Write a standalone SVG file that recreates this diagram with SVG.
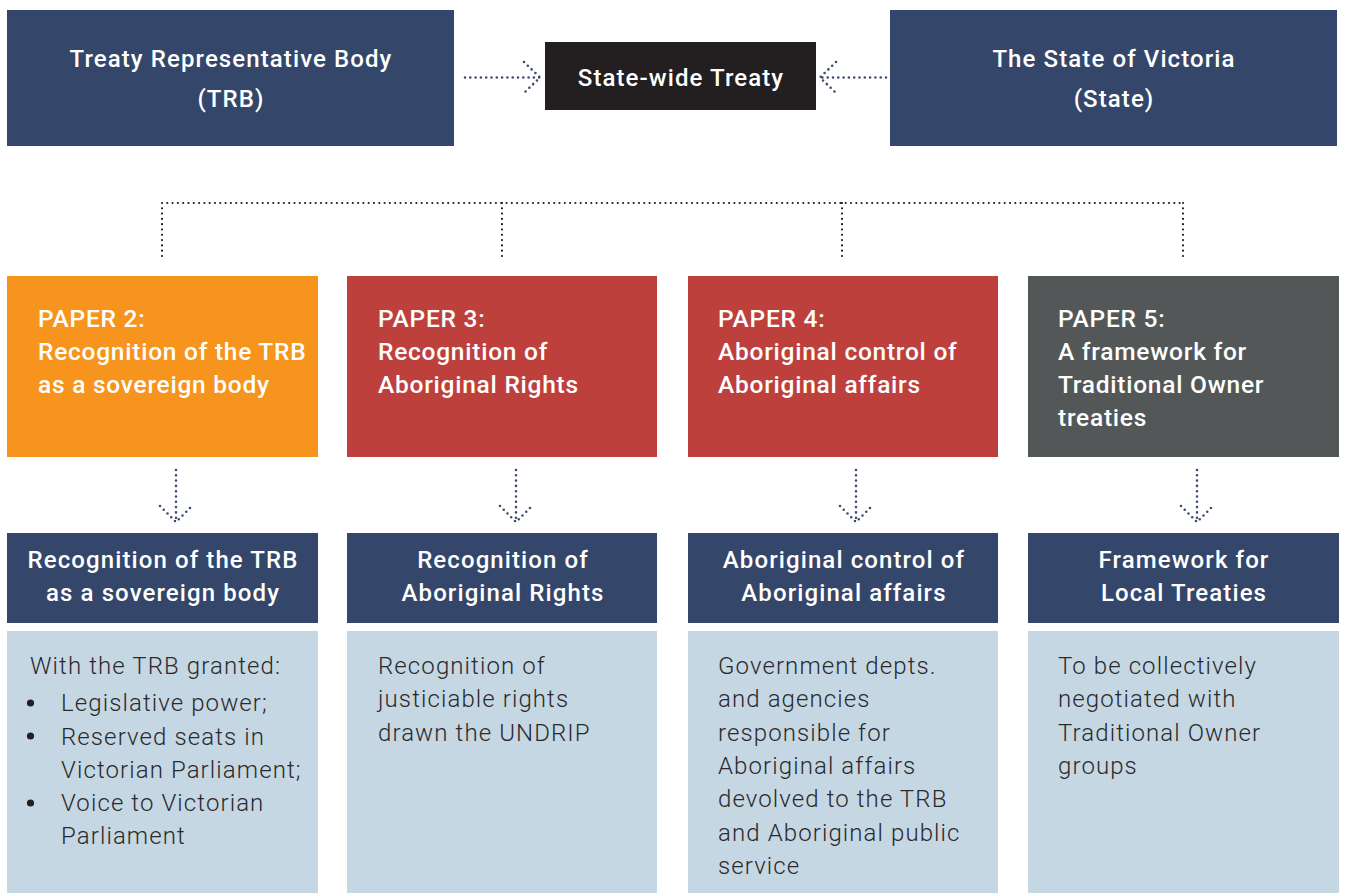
<svg xmlns="http://www.w3.org/2000/svg" width="1346" height="893" viewBox="0 0 1346 893">
<style>
.navy{fill:#34466a}
.hdr{font-family:Roboto,"Liberation Sans",sans-serif;font-weight:500;font-size:24px;fill:#ffffff;letter-spacing:1.1px}
.ptxt{font-family:Roboto,"Liberation Sans",sans-serif;font-weight:500;font-size:24.5px;fill:#ffffff;letter-spacing:0.75px}
.body{font-family:Roboto,"Liberation Sans",sans-serif;font-weight:300;font-size:24px;fill:#2a2a2c;letter-spacing:1.1px}
.dotk{fill:none;stroke:#231f20;stroke-width:2.2;stroke-linecap:round;stroke-dasharray:0 5.3}
.dotn{fill:none;stroke:#3b4b70;stroke-width:2.6;stroke-linecap:round;stroke-dasharray:0 5.3}
</style>
<rect width="1346" height="893" fill="#ffffff"/>

<g id="trb">
<rect class="navy" x="7" y="10" width="447" height="136"/>
<text class="hdr" x="231" y="67" text-anchor="middle">Treaty Representative Body</text>
<text class="hdr" x="231" y="107" text-anchor="middle">(TRB)</text>
</g>
<g id="treaty">
<rect x="545" y="42" width="271" height="68" fill="#231f20"/>
<text class="hdr" x="681" y="86" text-anchor="middle">State-wide Treaty</text>
</g>
<g id="state">
<rect class="navy" x="890" y="10" width="447" height="136"/>
<text class="hdr" x="1114" y="67" text-anchor="middle">The State of Victoria</text>
<text class="hdr" x="1114" y="107" text-anchor="middle">(State)</text>
</g>

<g id="connectors">
<path class="dotk" d="M162 203 H1183 M162 203 V259 M502 203 V259 M842 203 V259 M1183 203 V259"/>
<path class="dotn" d="M465 77.5 H540 M524 62 L540 77.5 L524 93"/>
<path class="dotn" d="M886 77.5 H820 M836 62 L820 77.5 L836 93"/>
<path class="dotn" d="M176 470 V522 M160 506 L176 522 L192 506"/>
<path class="dotn" d="M516 470 V522 M500 506 L516 522 L532 506"/>
<path class="dotn" d="M856 470 V522 M840 506 L856 522 L872 506"/>
<path class="dotn" d="M1197 470 V522 M1181 506 L1197 522 L1213 506"/>
</g>

<g id="paper2">
<rect x="7" y="276" width="311" height="181" fill="#f7941d"/>
<text class="ptxt" x="38" y="327">PAPER 2:</text>
<text class="ptxt" x="38" y="360">Recognition of the TRB</text>
<text class="ptxt" x="38" y="393">as a sovereign body</text>
</g>
<g id="paper3">
<rect x="347" y="276" width="310" height="181" fill="#be403d"/>
<text class="ptxt" x="378" y="327">PAPER 3:</text>
<text class="ptxt" x="378" y="360">Recognition of</text>
<text class="ptxt" x="378" y="393">Aboriginal Rights</text>
</g>
<g id="paper4">
<rect x="688" y="276" width="310" height="181" fill="#be403d"/>
<text class="ptxt" x="718" y="327">PAPER 4:</text>
<text class="ptxt" x="718" y="360">Aboriginal control of</text>
<text class="ptxt" x="718" y="393">Aboriginal affairs</text>
</g>
<g id="paper5">
<rect x="1028" y="276" width="311" height="181" fill="#535758"/>
<text class="ptxt" x="1058" y="327">PAPER 5:</text>
<text class="ptxt" x="1058" y="360">A framework for</text>
<text class="ptxt" x="1058" y="393">Traditional Owner</text>
<text class="ptxt" x="1058" y="426">treaties</text>
</g>

<g id="title2">
<rect class="navy" x="7" y="533" width="311" height="90"/>
<text class="hdr" x="163" y="568" text-anchor="middle">Recognition of the TRB</text>
<text class="hdr" x="163" y="601" text-anchor="middle">as a sovereign body</text>
</g>
<g id="title3">
<rect class="navy" x="347" y="533" width="310" height="90"/>
<text class="hdr" x="503" y="568" text-anchor="middle">Recognition of</text>
<text class="hdr" x="503" y="601" text-anchor="middle">Aboriginal Rights</text>
</g>
<g id="title4">
<rect class="navy" x="688" y="533" width="310" height="90"/>
<text class="hdr" x="844" y="568" text-anchor="middle">Aboriginal control of</text>
<text class="hdr" x="844" y="601" text-anchor="middle">Aboriginal affairs</text>
</g>
<g id="title5">
<rect class="navy" x="1028" y="533" width="311" height="90"/>
<text class="hdr" x="1184" y="568" text-anchor="middle">Framework for</text>
<text class="hdr" x="1184" y="601" text-anchor="middle">Local Treaties</text>
</g>

<g id="body2">
<rect x="7" y="631" width="311" height="262" fill="#c6d7e4"/>
<text class="body" x="30" y="674">With the TRB granted:</text>
<circle cx="30.5" cy="703" r="3.6" fill="#231f20"/>
<circle cx="30.5" cy="736" r="3.6" fill="#231f20"/>
<circle cx="30.5" cy="803" r="3.6" fill="#231f20"/>
<text class="body" x="61" y="711">Legislative power;</text>
<text class="body" x="61" y="745">Reserved seats in</text>
<text class="body" x="61" y="778">Victorian Parliament;</text>
<text class="body" x="61" y="811">Voice to Victorian</text>
<text class="body" x="61" y="844">Parliament</text>
</g>
<g id="body3">
<rect x="347" y="631" width="310" height="262" fill="#c6d7e4"/>
<text class="body" x="378" y="674">Recognition of</text>
<text class="body" x="378" y="707">justiciable rights</text>
<text class="body" x="378" y="741">drawn the UNDRIP</text>
</g>
<g id="body4">
<rect x="688" y="631" width="310" height="262" fill="#c6d7e4"/>
<text class="body" x="718" y="674">Government depts.</text>
<text class="body" x="718" y="707">and agencies</text>
<text class="body" x="718" y="741">responsible for</text>
<text class="body" x="718" y="774">Aboriginal affairs</text>
<text class="body" x="718" y="807">devolved to the TRB</text>
<text class="body" x="718" y="841">and Aboriginal public</text>
<text class="body" x="718" y="874">service</text>
</g>
<g id="body5">
<rect x="1028" y="631" width="311" height="262" fill="#c6d7e4"/>
<text class="body" x="1058" y="674">To be collectively</text>
<text class="body" x="1058" y="707">negotiated with</text>
<text class="body" x="1058" y="741">Traditional Owner</text>
<text class="body" x="1058" y="774">groups</text>
</g>
</svg>
